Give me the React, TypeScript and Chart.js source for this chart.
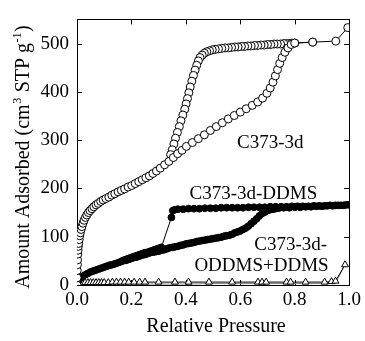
import React, { useEffect, useRef } from "react";
import { Chart, registerables } from "chart.js";
Chart.register(...registerables);

// ---------- data ----------
const xTickValues = [0, 0.2, 0.4, 0.6, 0.8, 1.0];
const yTickValues = [0, 100, 200, 300, 400, 500];
const xTitle = "Relative Pressure";
const seriesLabels = ["C373-3d", "C373-3d-DDMS", "C373-3d-", "ODDMS+DDMS"];

// C373-3d adsorption (open circles)
const c3dAdsP = [0, 0.0005, 0.001, 0.0015, 0.002, 0.003, 0.004, 0.005, 0.006, 0.008, 0.010, 0.012, 0.015, 0.018, 0.022, 0.026, 0.031, 0.036, 0.042, 0.048, 0.055, 0.062, 0.070, 0.078, 0.087, 0.096, 0.106, 0.117, 0.128, 0.139, 0.151, 0.163, 0.175, 0.188, 0.201, 0.214, 0.227, 0.240, 0.253, 0.266, 0.279, 0.292, 0.306, 0.322, 0.338, 0.354, 0.370, 0.386, 0.402, 0.424, 0.446, 0.468, 0.490, 0.512, 0.534, 0.556, 0.578, 0.600, 0.622, 0.644, 0.664, 0.682, 0.698, 0.710, 0.720, 0.729, 0.737, 0.745, 0.754, 0.764, 0.775, 0.787, 0.800, 0.866, 0.951, 0.995];
const c3dAdsV = [0, 15, 30, 42, 52, 64, 72, 80, 86, 94, 102, 108, 115, 121, 128, 134, 140, 145, 150, 154, 158, 162, 166, 169, 173, 176, 179, 182, 186, 189, 193, 196, 199, 203, 206, 210, 214, 218, 222, 226, 231, 236, 242, 249, 256, 264, 272, 279, 287, 295, 303, 311, 320, 328, 336, 344, 351, 358, 365, 372, 379, 387, 397, 408, 420, 433, 446, 459, 471, 482, 491, 498, 501, 503, 505, 533];

// C373-3d desorption (open circles)
const c3dDesP = [0.866, 0.800, 0.790, 0.780, 0.770, 0.760, 0.748, 0.736, 0.724, 0.712, 0.700, 0.688, 0.676, 0.664, 0.652, 0.640, 0.628, 0.616, 0.604, 0.592, 0.580, 0.568, 0.556, 0.544, 0.532, 0.520, 0.508, 0.497, 0.487, 0.477, 0.468, 0.460, 0.452, 0.446, 0.440, 0.434, 0.428, 0.422, 0.416, 0.411, 0.406, 0.401, 0.396, 0.389, 0.382, 0.376, 0.369, 0.362, 0.356, 0.350, 0.344];
const c3dDesV = [503, 501, 501, 500, 500, 500, 499, 499, 499, 498, 498, 497, 497, 496, 496, 495, 495, 494, 494, 493, 493, 492, 491, 491, 490, 489, 488, 487, 485, 483, 480, 476, 471, 464, 455, 445, 434, 422, 410, 398, 386, 375, 364, 352, 340, 328, 316, 304, 292, 280, 270];

// C373-3d-DDMS adsorption (filled circles)
const ddmsAdsP = [0, 0.002, 0.005, 0.01, 0.015, 0.02, 0.03, 0.04, 0.05, 0.06, 0.07, 0.08, 0.09, 0.10, 0.11, 0.12, 0.13, 0.14, 0.15, 0.16, 0.17, 0.18, 0.19, 0.20, 0.21, 0.22, 0.23, 0.24, 0.25, 0.26, 0.27, 0.28, 0.29, 0.30, 0.31, 0.32, 0.33, 0.34, 0.35, 0.36, 0.37, 0.38, 0.39, 0.40, 0.41, 0.42, 0.43, 0.44, 0.45, 0.46, 0.47, 0.48, 0.49, 0.50, 0.51, 0.52, 0.53, 0.54, 0.55, 0.56, 0.57, 0.58, 0.59, 0.60, 0.61, 0.62, 0.63, 0.64, 0.65, 0.66, 0.67, 0.68, 0.69, 0.70, 0.71, 0.72, 0.73, 0.74, 0.76, 0.78, 0.80, 0.82, 0.84, 0.86, 0.88, 0.90, 0.92, 0.94, 0.96, 0.98, 1.00];
const ddmsAdsV = [0, 5, 9, 13, 16, 18, 21, 24, 27, 29, 31, 33, 35, 37, 39, 41, 42, 44, 46, 48, 50, 51, 53, 55, 57, 58, 60, 62, 63, 65, 67, 68, 69, 70, 72, 73, 75, 77, 78, 79, 80, 82, 83, 85, 86, 87, 88, 90, 91, 92, 93, 94, 95, 96, 97, 98, 99, 101, 102, 103, 105, 108, 110, 112, 115, 118, 122, 127, 132, 137, 143, 148, 151, 154, 156, 157, 158, 159, 160, 160, 161, 161, 162, 162, 163, 163, 164, 164, 165, 165, 166];

// C373-3d-DDMS desorption (filled circles)
const ddmsDesP = [0.99, 0.97, 0.95, 0.93, 0.91, 0.89, 0.87, 0.85, 0.83, 0.81, 0.79, 0.77, 0.75, 0.73, 0.71, 0.69, 0.67, 0.65, 0.63, 0.61, 0.59, 0.57, 0.55, 0.53, 0.51, 0.49, 0.47, 0.45, 0.43, 0.41, 0.39, 0.37, 0.36, 0.352, 0.347, 0.31, 0.30, 0.29, 0.28, 0.27, 0.26, 0.25, 0.24, 0.23, 0.22, 0.21, 0.20, 0.19, 0.18, 0.17];
const ddmsDesV = [166, 165, 165, 165, 164, 164, 164, 163, 163, 163, 163, 162, 162, 162, 162, 161, 161, 161, 161, 160, 160, 160, 160, 160, 159, 159, 159, 158, 158, 158, 157, 157, 156, 154, 140, 78, 76, 74, 72, 70, 68, 67, 65, 63, 61, 59, 57, 55, 53, 51];

// C373-3d-ODDMS+DDMS adsorption (open triangles)
const oddmsAdsP = [0.001, 0.003, 0.006, 0.01, 0.015, 0.02, 0.03, 0.04, 0.05, 0.06, 0.07, 0.08, 0.09, 0.10, 0.115, 0.13, 0.145, 0.16, 0.175, 0.19, 0.21, 0.23, 0.25, 0.30, 0.36, 0.41, 0.485, 0.57, 0.665, 0.68, 0.695, 0.77, 0.785, 0.84, 0.91, 0.935, 0.95, 0.985];
const oddmsAdsV = [2, 3, 3, 4, 4, 4, 5, 5, 5, 5, 5, 5, 5, 5, 5, 6, 6, 6, 6, 6, 6, 6, 6, 6, 6, 6, 6, 6, 6, 6, 6, 6, 6, 6, 6, 7, 8, 42];

// C373-3d-ODDMS+DDMS desorption (line)
const oddmsDesP = [0.985, 0.95, 0.90, 0.80, 0.70, 0.60, 0.50, 0.40, 0.30, 0.20, 0.10, 0.05, 0.0];
const oddmsDesV = [42, 4, 3, 3, 3, 3, 3, 2, 2, 2, 2, 2, 0];

const pts = (p: number[], v: number[]) => p.map((x, i) => ({ x, y: v[i] }));

const FONT = "Liberation Serif";

const decorPlugin = {
  id: "decor",
  beforeDatasetsDraw(chart: any) {
    const { ctx, chartArea: a, scales } = chart;
    ctx.save();
    ctx.strokeStyle = "#000";
    ctx.lineWidth = 1;
    ctx.strokeRect(Math.round(a.left) + 0.5, Math.round(a.top) + 0.5, Math.round(a.right - a.left), Math.round(a.bottom - a.top));
    const tl = 5;
    ctx.beginPath();
    xTickValues.forEach((v) => {
      const x = Math.round(scales.x.getPixelForValue(v)) + 0.5;
      ctx.moveTo(x, a.bottom);
      ctx.lineTo(x, a.bottom - tl);
      ctx.moveTo(x, a.top);
      ctx.lineTo(x, a.top + tl);
    });
    yTickValues.forEach((v) => {
      const y = Math.round(scales.y.getPixelForValue(v)) + 0.5;
      ctx.moveTo(a.left, y);
      ctx.lineTo(a.left + tl, y);
      ctx.moveTo(a.right, y);
      ctx.lineTo(a.right - tl, y);
    });
    ctx.stroke();
    ctx.restore();
  },
  afterDraw(chart: any) {
    const { ctx, scales } = chart;
    ctx.save();
    ctx.fillStyle = "#000";
    // x title
    ctx.font = `20px "${FONT}", serif`;
    ctx.textAlign = "center";
    ctx.textBaseline = "middle";
    ctx.fillText(xTitle, 216, 327);

    // y title with superscripts
    const segs: [string, boolean][] = [
      ["Amount Adsorbed (cm", false],
      ["3", true],
      [" STP g", false],
      ["-1", true],
      [")", false],
    ];
    const normal = `20px "${FONT}", serif`;
    const sup = `12px "${FONT}", serif`;
    let total = 0;
    segs.forEach(([t, s]) => {
      ctx.font = s ? sup : normal;
      total += ctx.measureText(t).width + (s ? 1 : 0);
    });
    ctx.translate(22, 157);
    ctx.rotate(-Math.PI / 2);
    ctx.textAlign = "left";
    ctx.textBaseline = "alphabetic";
    let cx = -total / 2;
    segs.forEach(([t, s]) => {
      ctx.font = s ? sup : normal;
      ctx.fillText(t, cx + (s ? 0.5 : 0), s ? -1 : 7);
      cx += ctx.measureText(t).width + (s ? 1 : 0);
    });
    ctx.setTransform(1, 0, 0, 1, 0, 0);

    // series annotations
    ctx.font = `19px "${FONT}", serif`;
    ctx.textBaseline = "middle";
    const X = (p: number) => scales.x.getPixelForValue(p);
    const Y = (v: number) => scales.y.getPixelForValue(v);
    ctx.textAlign = "center";
    ctx.fillText(seriesLabels[0], X(0.71), Y(295));
    ctx.fillText(seriesLabels[1], X(0.648), Y(189));
    ctx.textAlign = "right";
    ctx.fillText(seriesLabels[2], X(0.919), Y(82));
    ctx.textAlign = "center";
    ctx.fillText(seriesLabels[3], X(0.678), Y(40));
    ctx.restore();
  },
};

export default function App() {
  const ref = useRef<HTMLCanvasElement | null>(null);
  useEffect(() => {
    if (!ref.current) return;
    const openCircle = {
      pointStyle: "circle",
      pointRadius: 4,
      pointBackgroundColor: "#fff",
      pointBorderColor: "#000",
      pointBorderWidth: 1,
      borderColor: "#000",
      borderWidth: 1,
      showLine: true,
    };
    const filledCircle = {
      pointStyle: "circle",
      pointRadius: 3.4,
      pointBackgroundColor: "#000",
      pointBorderColor: "#000",
      pointBorderWidth: 1,
      borderColor: "#000",
      borderWidth: 1,
      showLine: true,
    };
    const openTri = {
      pointStyle: "triangle",
      pointRadius: 4,
      pointBackgroundColor: "#fff",
      pointBorderColor: "#000",
      pointBorderWidth: 1,
      borderColor: "#000",
      borderWidth: 1,
      showLine: true,
    };
    const chart = new Chart(ref.current, {
      type: "scatter",
      data: {
        datasets: [
          { label: "C373-3d ads", data: pts(c3dAdsP, c3dAdsV), ...openCircle, order: 1 },
          { label: "C373-3d des", data: pts(c3dDesP, c3dDesV), ...openCircle, order: 2 },
          { label: "DDMS ads", data: pts(ddmsAdsP, ddmsAdsV), ...filledCircle, order: 3 },
          { label: "DDMS des", data: pts(ddmsDesP, ddmsDesV), ...filledCircle, order: 4 },
          { label: "ODDMS ads", data: pts(oddmsAdsP, oddmsAdsV), ...openTri, order: 5 },
          {
            label: "ODDMS des",
            data: pts(oddmsDesP, oddmsDesV),
            showLine: true,
            pointRadius: 0,
            borderColor: "#888",
            borderWidth: 1,
            order: 6,
          },
        ] as any,
      },
      options: {
        animation: false,
        responsive: false,
        devicePixelRatio: 1,
        layout: { padding: { top: 10, right: 15, left: 0, bottom: 0 } },
        plugins: { legend: { display: false }, tooltip: { enabled: false } },
        scales: {
          x: {
            type: "linear",
            min: 0,
            max: 1,
            grid: { display: false, drawTicks: false },
            border: { display: false },
            afterBuildTicks: (s: any) => {
              s.ticks = xTickValues.map((value) => ({ value }));
            },
            afterFit: (s: any) => {
              s.height = 56;
            },
            ticks: {
              color: "#000",
              font: { family: `"${FONT}", serif`, size: 19 },
              padding: 4,
              maxRotation: 0,
              autoSkip: false,
              callback: (v: any) => Number(v).toFixed(1),
            },
          },
          y: {
            type: "linear",
            min: 0,
            max: 550,
            grid: { display: false, drawTicks: false },
            border: { display: false },
            afterBuildTicks: (s: any) => {
              s.ticks = yTickValues.map((value) => ({ value }));
            },
            afterFit: (s: any) => {
              s.width = 77;
            },
            ticks: {
              color: "#000",
              font: { family: `"${FONT}", serif`, size: 19 },
              padding: 8,
              autoSkip: false,
              callback: (v: any) => String(v),
            },
          },
        },
      } as any,
      plugins: [decorPlugin],
    });
    return () => chart.destroy();
  }, []);
  return (
    <div style={{ position: "absolute", left: 0, top: 0, width: 365, height: 341, background: "#fff" }}>
      <canvas ref={ref} width={365} height={341} style={{ width: 365, height: 341, display: "block" }} />
    </div>
  );
}
